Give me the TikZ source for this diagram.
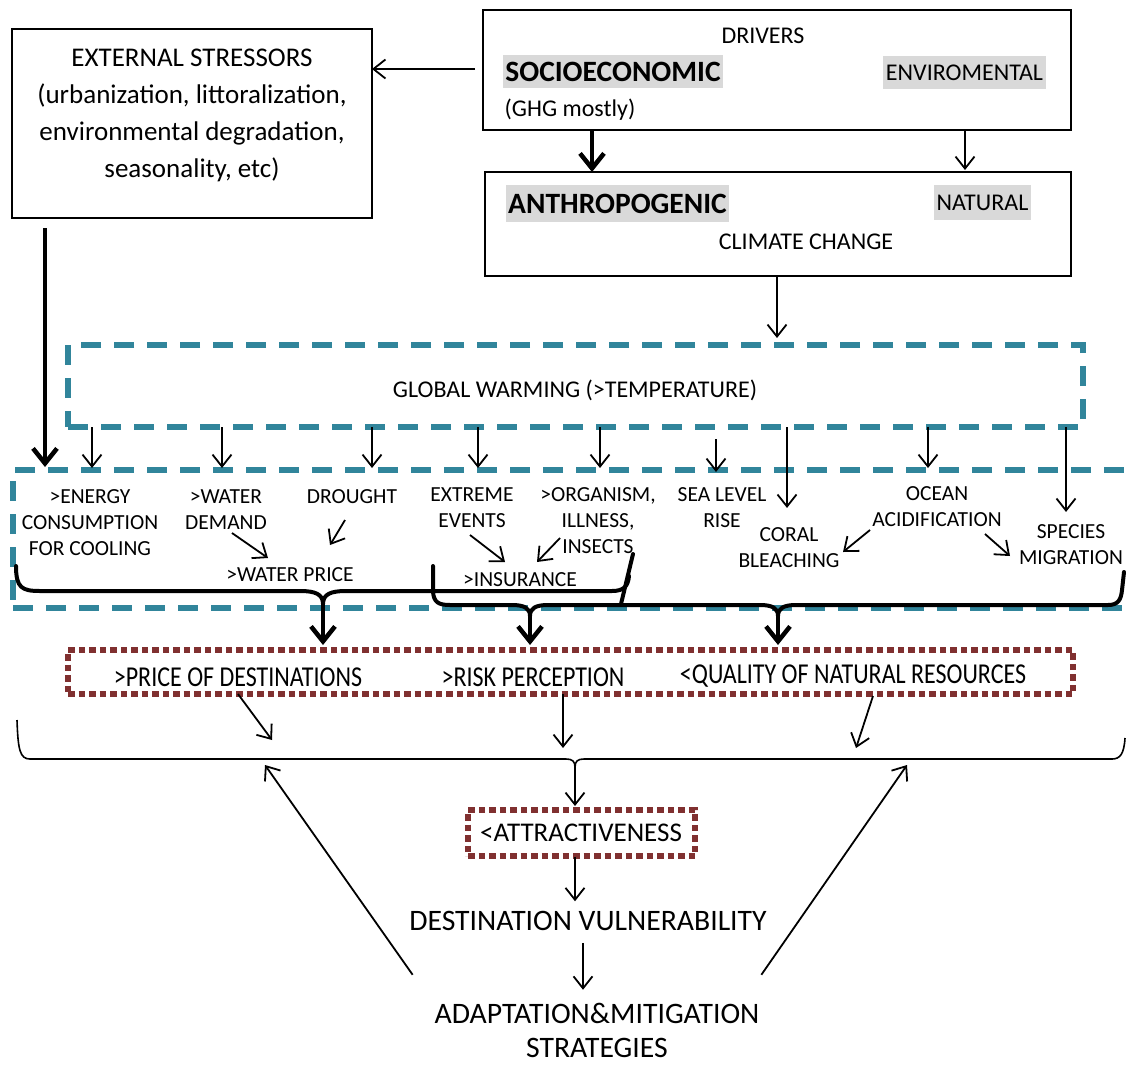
\documentclass[tikz,border=0pt]{standalone}
\usepackage{fontspec}
\usepackage{graphicx}
\setmainfont{Carlito}
\usetikzlibrary{arrows.meta,calc}
\definecolor{teal0}{RGB}{49,133,155}
\definecolor{maroon0}{RGB}{128,48,48}
\definecolor{hl}{RGB}{217,217,217}
\begin{document}
\begin{tikzpicture}[x=1pt,y=-1pt,
  every node/.style={inner sep=0pt, outer sep=0pt},
  box/.style={draw, line width=1.8pt},
  gwbox/.style={draw=teal0, line width=6pt, dash pattern=on 20pt off 13pt},
  redbox/.style={draw=maroon0, line width=6.5pt, dash pattern=on 6.5pt off 4pt},
  f24/.style={font=\fontsize{24}{29}\selectfont},
  f21/.style={font=\fontsize{21.5}{26}\selectfont, align=center},
  f27/.style={font=\fontsize{27}{37}\selectfont, align=center},
  f30/.style={font=\fontsize{29.7}{34}\selectfont, align=center},
  hlb/.style={fill=hl, inner xsep=2pt, font=\fontsize{29.5}{34}\selectfont\bfseries},
  hlr/.style={fill=hl, inner xsep=3pt, font=\fontsize{24}{29}\selectfont},
  arr/.style={line width=1.8pt, -{Straight Barb[length=12pt,width=19pt]}},
  tarr/.style={line width=4.5pt, -{Straight Barb[length=15pt,width=24pt]}},
  brace/.style={line width=4pt, line join=round, line cap=round},
  thinbrace/.style={line width=1.6pt, line join=round}
]
\useasboundingbox (0,0) rectangle (1126,1065);
\fill[white] (0,0) rectangle (1126,1065);
\clip (0,0) rectangle (1126,1065);

% ---- drivers ----
\node[box, minimum width=588pt, minimum height=120pt] (drv) at (777,70) {};
\node[f24] (drvt) at (763,36) {DRIVERS};
\node[hlb, minimum height=33pt] (soc) at (613,71.5) {SOCIOECONOMIC};
\node[hlr, minimum height=33pt] (env) at (964.5,72.5) {ENVIROMENTAL};
\node[f24] (ghg) at (570,110) {(GHG mostly)};

% ---- climate change ----
\node[box, minimum width=586pt, minimum height=104pt] (cc) at (778,224) {};
\node[hlb, minimum height=37pt] (ant) at (617.5,203.5) {ANTHROPOGENIC};
\node[hlr, minimum height=35pt] (nat) at (982.5,202.5) {NATURAL};
\node[f24] (cct) at (806,242) {CLIMATE CHANGE};

% ---- external stressors ----
\node[box, minimum width=360pt, minimum height=189pt] (ext) at (192,123.5) {};
\node[f27] (extt) at (192,115) {EXTERNAL STRESSORS\\(urbanization, littoralization,\\environmental degradation,\\seasonality, etc)};

% ---- global warming ----
\node[gwbox, minimum width=1015pt, minimum height=82pt] (gw) at (575.5,386) {};
\node[f24] (gwt) at (575,390) {GLOBAL WARMING (>TEMPERATURE)};

% ---- impacts ----
\node[gwbox, minimum width=1130pt, minimum height=138pt, anchor=north west] (imp) at (13,470) {};
\node[f21] (en) at (90,523) {>ENERGY\\CONSUMPTION\\FOR COOLING};
\node[f21] (wd) at (226,510) {>WATER\\DEMAND};
\node[f21] (dr) at (352,497) {DROUGHT};
\node[f21] (wp) at (290,575) {>WATER PRICE};
\node[f21] (ee) at (472,508) {EXTREME\\EVENTS};
\node[f21] (org) at (598,521) {>ORGANISM,\\ILLNESS,\\INSECTS};
\node[f21] (ins) at (520,580) {>INSURANCE};
\node[f21] (slr) at (722,508) {SEA LEVEL\\RISE};
\node[f21] (cb) at (789,548) {CORAL\\BLEACHING};
\node[f21] (oa) at (937,507) {OCEAN\\ACIDIFICATION};
\node[f21] (sm) at (1071,545) {SPECIES\\MIGRATION};

% ---- effects on destinations ----
\node[redbox, minimum width=1005pt, minimum height=44pt] (price) at (570.5,672) {};
\node[f24] (pd) at (238,677) {\scalebox{1}[1.2]{>PRICE OF DESTINATIONS}};
\node[f24] (rp) at (533,677) {\scalebox{1}[1.2]{>RISK PERCEPTION}};
\node[f24] (qn) at (853,676) {\scalebox{1}[1.2]{<QUALITY OF NATURAL RESOURCES}};

\node[redbox, minimum width=227pt, minimum height=46pt] (att) at (581.5,833) {};
\node[f27] (attt) at (581,833) {<ATTRACTIVENESS};
\node[f30] (dv) at (588,921) {DESTINATION VULNERABILITY};
\node[f30] (am) at (597,1030) {ADAPTATION\&MITIGATION\\STRATEGIES};

% ---- top connectors ----
\coordinate (d0) at ($(drv.west)+(-8,-1)$);
\draw[arr] (d0) -- (ext.east |- d0);
\draw[tarr] (592,0 |- drv.south) -- (592,0 |- cc.north);
\draw[arr] (965,0 |- drv.south) -- ($(965,0 |- cc.north)+(0,-2)$);
\draw[arr] (777,0 |- cc.south) -- ($(777,0 |- gw.north)+(0,-7)$);
\draw[tarr] ($(45,0 |- ext.south)+(0,10)$) -- ($(45,0 |- imp.north)+(0,-3)$);

% ---- warming to impacts ----
\foreach \x in {92,222,372,478,600,928}
  \draw[arr] (\x,0 |- gw.south) -- ($(\x,0 |- imp.north)+(0,-2)$);
\draw[arr] ($(716,0 |- gw.south)+(0,12)$) -- ($(716,0 |- imp.north)+(0,2)$);
\draw[arr] (787,0 |- gw.south) -- ([xshift=-2pt,yshift=20pt]cb.north);
\draw[arr] (1066,0 |- gw.south) -- ([xshift=-5pt,yshift=13pt]sm.north);

% ---- links inside the impacts ----
\draw[arr] ([shift={(6,23)}]wd.center) -- ([shift={(-22,-17)}]wp.center);
\draw[arr] ([shift={(-7,23)}]dr.center) -- ([shift={(40,-30)}]wp.center);
\draw[arr] ([shift={(-2,27)}]ee.center) -- ([shift={(-15,-18)}]ins.center);
\draw[arr] ([shift={(-38,17)}]org.center) -- ([shift={(17,-18)}]ins.center);
\draw[arr] ([shift={(-67,23)}]oa.center) -- ([shift={(54,4)}]cb.center);
\draw[arr] ([shift={(48,27)}]oa.center) -- ([shift={(-61,11)}]sm.center);

% ---- grouping braces ----
\draw[brace] (16,566) .. controls (16,588) and (22,591) .. (40,591) -- (300,591)
  .. controls (315,591) and (323,594) .. (323,604) coordinate (tipA)
  .. controls (323,594) and (331,591) .. (346,591) -- (612,591)
  .. controls (624,591) and (628,586) .. (629,576);
\draw[brace] (633,554) -- (621,604);
\draw[brace] (433,566) -- (433,592) .. controls (434,602) and (438,605) .. (450,605) -- (512,605)
  .. controls (524,605) and (530,608) .. (530,616) coordinate (tipB)
  .. controls (530,608) and (536,605) .. (548,605) -- (760,605)
  .. controls (772,605) and (778,608) .. (778,616) coordinate (tipC)
  .. controls (778,608) and (784,605) .. (796,605) -- (1108,605)
  .. controls (1118,605) and (1121,600) .. (1122,590) -- (1124,572);
\draw[tarr] (tipA) -- ($(tipA |- price.north)+(0,-5)$);
\draw[tarr] (tipB) -- ($(tipB |- price.north)+(0,-5)$);
\draw[tarr] (tipC) -- ($(tipC |- price.north)+(0,-5)$);

% ---- lower brace and its links ----
\draw[thinbrace] (17,720) .. controls (18,750) and (20,759) .. (30,759) -- (566,759)
  .. controls (572,759) and (575,761) .. (575,767) coordinate (bt)
  .. controls (575,761) and (578,759) .. (584,759) -- (1112,759)
  .. controls (1120,759) and (1124,754) .. (1125,738);
\coordinate (pdend) at (272,740);
\coordinate (rpend) at (563,748);
\coordinate (qnend) at (856,748);
\coordinate (bl) at (265,765);
\coordinate (br) at (907,765);
\draw[arr] (price.south -| pd) -- (pdend);
\draw[arr] (rpend |- price.south) -- (rpend);
\draw[arr] ($(873,0 |- price.south)+(0,2)$) -- (qnend);
\draw[arr] (bt) -- ($(bt |- att.north)+(0,-4)$);
\draw[arr] ($(575,0 |- att.south)+(0,1)$) -- ($(575,0 |- dv.north)+(0,-10)$);
\draw[arr] ($(583,0 |- dv.south)+(0,12)$) -- ($(583,0 |- am.north)+(0,-13)$);
\draw[arr] ([shift={(-22,-28)}]am.north west) -- (bl);
\draw[arr] ([shift={(2,-28)}]am.north east) -- (br);
\end{tikzpicture}
\end{document}
